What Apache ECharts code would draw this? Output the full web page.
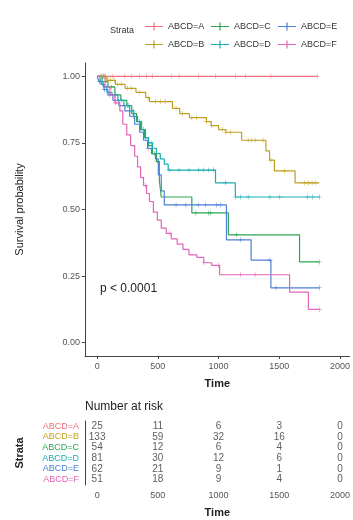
<!DOCTYPE html>
<html>
<head>
<meta charset="utf-8">
<script src="https://cdn.jsdelivr.net/npm/echarts@6/dist/echarts.min.js"></script>
<style>
  html, body { margin: 0; padding: 0; background: #fff; }
  #chart { width: 353px; height: 520px; }
</style>
</head>
<body>
<div id="chart"></div>
<script>
// strata + colours
const strata = ['ABCD=A', 'ABCD=B', 'ABCD=C', 'ABCD=D', 'ABCD=E', 'ABCD=F'];
const colors = ['#F0707A', '#C0A020', '#2EA555', '#1AAEB4', '#4F80D6', '#E266B8'];

// KM curves (time, survival)
const timeA = [0, 1813];
const survA = [1, 1];
const censA = [60, 130, 228, 285, 350, 407, 455, 610, 675, 837, 976, 1138, 1220, 1431, 1813];

const timeB = [0, 80, 150, 230, 320, 400, 430, 620, 680, 760, 900, 940, 1000, 1060, 1190, 1390, 1420, 1460, 1630, 1830];
const survB = [1, 0.985, 0.97, 0.955, 0.94, 0.92, 0.905, 0.88, 0.86, 0.845, 0.83, 0.815, 0.80, 0.79, 0.76, 0.72, 0.685, 0.645, 0.60, 0.60];
const censB = [30, 50, 70, 90, 110, 140, 170, 200, 250, 280, 350, 420, 480, 520, 560, 650, 700, 780, 820, 902, 943, 1030, 1060, 1100, 1244, 1270, 1301, 1366, 1431, 1545, 1707, 1740, 1770, 1797];

const timeC = [0, 41, 89, 146, 195, 244, 285, 325, 358, 390, 423, 455, 488, 512, 528, 780, 1081, 1667, 1830];
const survC = [1, 0.98, 0.96, 0.93, 0.91, 0.89, 0.86, 0.83, 0.80, 0.77, 0.74, 0.71, 0.68, 0.61, 0.547, 0.487, 0.405, 0.303, 0.303];
const censC = [40, 120, 250, 380, 470, 500, 813, 919, 935, 1146, 1830];

const timeD = [0, 24, 49, 81, 122, 171, 220, 268, 301, 333, 366, 398, 423, 455, 488, 520, 553, 585, 975, 1138, 1830];
const survD = [1, 0.98, 0.96, 0.94, 0.93, 0.91, 0.89, 0.87, 0.85, 0.83, 0.80, 0.77, 0.75, 0.73, 0.71, 0.69, 0.67, 0.648, 0.60, 0.547, 0.547];
const censD = [30, 80, 150, 200, 260, 300, 350, 400, 450, 593, 675, 756, 837, 878, 919, 959, 1057, 1138, 1179, 1244, 1423, 1504, 1732, 1772, 1830];

const timeE = [0, 16, 33, 57, 89, 130, 179, 228, 268, 309, 350, 382, 415, 447, 480, 504, 528, 553, 1065, 1268, 1431, 1830];
const survE = [1, 0.98, 0.97, 0.95, 0.93, 0.91, 0.89, 0.87, 0.85, 0.82, 0.79, 0.76, 0.73, 0.71, 0.69, 0.63, 0.57, 0.517, 0.386, 0.31, 0.206, 0.206];
const censE = [20, 60, 100, 300, 420, 650, 731, 837, 894, 984, 1016, 1179, 1423, 1472, 1830];

const timeF = [0, 65, 106, 146, 187, 211, 244, 276, 309, 333, 358, 382, 407, 431, 463, 496, 528, 569, 610, 659, 707, 756, 821, 878, 943, 1008, 1585, 1740, 1830];
const survF = [1, 0.96, 0.93, 0.90, 0.87, 0.82, 0.78, 0.74, 0.70, 0.66, 0.62, 0.59, 0.56, 0.53, 0.49, 0.46, 0.43, 0.41, 0.39, 0.37, 0.35, 0.33, 0.32, 0.30, 0.29, 0.255, 0.19, 0.125, 0.125];
const censF = [50, 150, 400, 600, 878, 1000, 1179, 1301, 1830];

// number at risk table
const riskTimes = [0, 500, 1000, 1500, 2000];
const riskA = [25, 11, 6, 3, 0];
const riskB = [133, 59, 32, 16, 0];
const riskC = [54, 12, 6, 4, 0];
const riskD = [81, 30, 12, 6, 0];
const riskE = [62, 21, 9, 1, 0];
const riskF = [51, 18, 9, 4, 0];

const xTicks = [0, 500, 1000, 1500, 2000];
const yTicks = [0, 0.25, 0.5, 0.75, 1];

const curves = [
  [timeA, survA, censA, riskA],
  [timeB, survB, censB, riskB],
  [timeC, survC, censC, riskC],
  [timeD, survD, censD, riskD],
  [timeE, survE, censE, riskE],
  [timeF, survF, censF, riskF]
];

const plus = 'path://M0,4.4H10V5.6H0Z M4.4,0H5.6V10H4.4Z';
const legendIcon = 'path://M0,3.4H18V4.6H0Z M8.4,0H9.6V8H8.4Z';
const font = 'Liberation Sans, Arial, sans-serif';

// survival value at time t (step function)
function survAt(times, surv, t) {
  let v = surv[0];
  for (let i = 0; i < times.length; i++) {
    if (times[i] <= t) v = surv[i];
  }
  return v;
}

const series = [];
curves.forEach((c, i) => {
  series.push({
    name: strata[i],
    type: 'line',
    step: 'end',
    showSymbol: false,
    symbol: 'none',
    data: c[0].map((t, j) => [t, c[1][j]]),
    lineStyle: { color: colors[i], width: 1.2 },
    itemStyle: { color: colors[i] },
    z: 2
  });
  series.push({
    name: strata[i] + ' cens',
    type: 'scatter',
    symbol: plus,
    symbolSize: 5,
    data: c[2].map(t => [t, survAt(c[0], c[1], t)]),
    itemStyle: { color: colors[i] },
    z: 3
  });
  series.push({
    name: strata[i] + ' risk',
    type: 'scatter',
    xAxisIndex: 1,
    yAxisIndex: 1,
    symbolSize: 0,
    data: riskTimes.map((t, j) => [t, strata[i], c[3][j]]),
    label: {
      show: true,
      position: 'inside',
      formatter: p => p.value[2],
      color: '#333',
      fontSize: 10,
      fontFamily: font
    }
  });
});

const axisCommon = {
  axisLine: { onZero: false, lineStyle: { color: '#444', width: 1 } },
  splitLine: { show: false },
  nameTextStyle: { color: '#222', fontSize: 11, fontWeight: 'bold', fontFamily: font }
};

function legendCol(items, left) {
  return {
    data: items,
    orient: 'vertical',
    left: left,
    top: 17,
    itemWidth: 18,
    itemHeight: 8,
    itemGap: 9,
    icon: legendIcon,
    textStyle: { fontSize: 9, color: '#333', fontFamily: font }
  };
}

function timeAxis(grid) {
  return Object.assign({}, axisCommon, {
    type: 'value', gridIndex: grid, min: -100, max: 2079,
    name: 'Time', nameLocation: 'middle', nameGap: 22,
    axisTick: { length: 3, lineStyle: { color: '#444' }, customValues: xTicks },
    axisLabel: { customValues: xTicks, formatter: v => String(v), color: '#555', fontSize: 9, margin: 6, fontFamily: font }
  });
}

const chart = echarts.init(document.getElementById('chart'));
chart.setOption({
  animation: false,
  backgroundColor: '#fff',
  legend: [
    legendCol(['ABCD=A', 'ABCD=B'], 140),
    legendCol(['ABCD=C', 'ABCD=D'], 206),
    legendCol(['ABCD=E', 'ABCD=F'], 273)
  ],
  graphic: [
    { type: 'text', left: 110, top: 26, style: { text: 'Strata', fontSize: 9, fill: '#333', fontFamily: font } },
    { type: 'text', left: 100, top: 283, style: { text: 'p < 0.0001', fontSize: 12, fill: '#222', fontFamily: font } },
    { type: 'text', left: 85, top: 401, style: { text: 'Number at risk', fontSize: 12, fill: '#222', fontFamily: font } }
  ],
  grid: [
    { left: 85, right: 0, top: 63, bottom: 164 },
    { left: 85, right: 0, top: 421, bottom: 35 }
  ],
  xAxis: [timeAxis(0), timeAxis(1)],
  yAxis: [
    Object.assign({}, axisCommon, {
      type: 'value', gridIndex: 0, min: -0.05, max: 1.05,
      name: 'Survival probability', nameLocation: 'middle', nameGap: 60, nameRotate: 90,
      nameTextStyle: { color: '#222', fontSize: 11, fontFamily: font },
      axisTick: { length: 3, lineStyle: { color: '#444' }, customValues: yTicks },
      axisLabel: { customValues: yTicks, formatter: v => v.toFixed(2), color: '#555', fontSize: 9, margin: 5, fontFamily: font }
    }),
    Object.assign({}, axisCommon, {
      type: 'category', gridIndex: 1, data: strata, inverse: true,
      name: 'Strata', nameLocation: 'middle', nameGap: 60, nameRotate: 90,
      axisTick: { length: 3, alignWithLabel: true, interval: 0, lineStyle: { color: '#444' } },
      axisLabel: {
        interval: 0,
        fontSize: 9, margin: 6, fontFamily: font,
        color: (v, i) => colors[i]
      }
    })
  ],
  series: series
});
</script>
</body>
</html>
